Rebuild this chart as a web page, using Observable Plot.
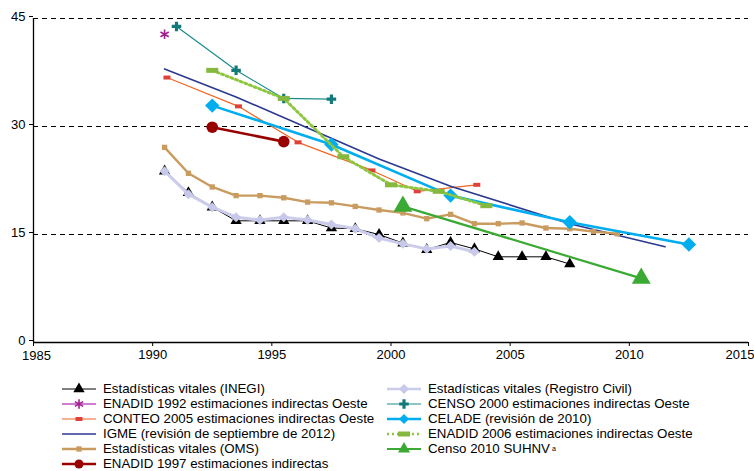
<!DOCTYPE html>
<html><head><meta charset="utf-8">
<script src="https://cdn.jsdelivr.net/npm/d3@7"></script>
<script src="https://cdn.jsdelivr.net/npm/@observablehq/plot@0.6"></script>
<style>
body{margin:0;background:#fff;font-family:"Liberation Sans",Arial,sans-serif;}
#chart{width:754px;height:471px;overflow:hidden;}
#legend{position:relative;width:754px;height:105px;font-size:13.3px;line-height:14px;color:#000;}
.item{position:absolute;display:flex;align-items:center;height:14px;white-space:nowrap;}
.item svg{display:block;margin-right:6px;}
sup{font-size:7px;vertical-align:5px;margin-left:2px;}
</style></head><body><div id="chart"></div>
<script>
// ---- data ----
const xTicks = [1985, 1990, 1995, 2000, 2005, 2010, 2015];
const yTicks = [0, 15, 30, 45];
const gridValues = [15, 30, 45];

const inegiYears = [1990.5,1991.5,1992.5,1993.5,1994.5,1995.5,1996.5,1997.5,1998.5,1999.5,2000.5,2001.5,2002.5,2003.5,2004.5,2005.5,2006.5,2007.5];
const inegiValues = [23.8,20.8,18.8,16.9,16.9,16.9,16.9,15.9,15.8,15.0,13.8,12.9,13.9,13.0,11.9,11.9,11.9,10.9];

const enadid92Years = [1990.5];
const enadid92Values = [42.8];

const conteoYears = [1990.6,1993.6,1996.1,1999.2,2001.1,2003.6];
const conteoValues = [36.8,32.8,27.8,23.9,21.0,21.9];

const igmeYears = [1990.5,1993.5,1999.5,2002.5,2007.5,2011.5];
const igmeValues = [38.0,34.1,25.5,21.7,16.5,13.3];

const omsYears = [1990.5,1991.5,1992.5,1993.5,1994.5,1995.5,1996.5,1997.5,1998.5,1999.5,2000.5,2001.5,2002.5,2003.5,2004.5,2005.5,2006.5,2007.5,2008.5,2009.5];
const omsValues = [27.1,23.5,21.6,20.4,20.4,20.1,19.5,19.4,18.9,18.4,18.0,17.2,17.8,16.5,16.5,16.6,15.9,15.8,15.4,15.1];

const enadid97Years = [1992.5,1995.5];
const enadid97Values = [29.9,27.9];

const registroYears = [1990.5,1991.5,1992.5,1993.5,1994.5,1995.5,1996.5,1997.5,1998.5,1999.5,2000.5,2001.5,2002.5,2003.5];
const registroValues = [23.8,20.6,18.8,17.4,17.0,17.4,17.0,16.4,15.8,14.5,13.7,13.0,13.4,12.6];

const censo2000Years = [1991.0,1993.5,1995.5,1997.5];
const censo2000Values = [43.9,37.8,33.9,33.8];

const celadeYears = [1992.5,1997.5,2002.5,2007.5,2012.5];
const celadeValues = [32.9,27.5,20.4,16.7,13.6];

const enadid06Years = [1992.5,1995.5,1998.0,2000.0,2002.0,2004.0];
const enadid06Values = [37.8,33.9,25.8,21.9,21.0,19.0];

const censo2010Years = [2000.5,2010.5];
const censo2010Values = [18.9,8.9];

const seriesLabels = [
  "Estadísticas vitales (INEGI)",
  "ENADID 1992 estimaciones indirectas Oeste",
  "CONTEO 2005 estimaciones indirectas Oeste",
  "IGME (revisión de septiembre de 2012)",
  "Estadísticas vitales (OMS)",
  "ENADID 1997 estimaciones indirectas",
  "Estadísticas vitales (Registro Civil)",
  "CENSO 2000 estimaciones indirectas Oeste",
  "CELADE (revisión de 2010)",
  "ENADID 2006 estimaciones indirectas Oeste",
  "Censo 2010 SUHNV"
];

// ---- styles ----
const rectSym = (w, h) => ({w, h, draw(ctx) { ctx.rect(-w / 2, -h / 2, w, h); }});
const styles = [
  {years: inegiYears, values: inegiValues, line: "#000", lw: 1, sym: "triangle", r: 4.2, fill: "#000"},
  {years: enadid92Years, values: enadid92Values, line: "#c050c0", lw: 1.5, sym: "asterisk", r: 4.5, stroke: "#a0208c", sw: 1.6},
  {years: conteoYears, values: conteoValues, line: "#f26522", lw: 1.2, sym: rectSym(7, 4), r: 3, fill: "#e0403a"},
  {years: igmeYears, values: igmeValues, line: "#2b3990", lw: 1.6, sym: null},
  {years: omsYears, values: omsValues, line: "#c99b5e", lw: 2.4, sym: "square", r: 3, fill: "#c99b5e"},
  {years: enadid97Years, values: enadid97Values, line: "#990000", lw: 2.6, sym: "circle", r: 5.8, fill: "#990000"},
  {years: registroYears, values: registroValues, line: "#cbcbec", lw: 3, sym: "diamond2", r: 4.5, fill: "#c8c8ea"},
  {years: censo2000Years, values: censo2000Values, line: "#1a8c8c", lw: 1.2, sym: "cross", r: 4, fill: "#127a7a"},
  {years: celadeYears, values: celadeValues, line: "#00aeef", lw: 2.6, sym: "diamond2", r: 6.5, fill: "#00aeef"},
  {years: enadid06Years, values: enadid06Values, line: "#8dc63f", lw: 3, dash: "2,3", sym: rectSym(12, 5), r: 4, fill: "#86b73e"},
  {years: censo2010Years, values: censo2010Values, line: "#3aaa35", lw: 2.2, sym: "triangle", r: 7, fill: "#3aaa35"}
];

const firstTick = xTicks[0];
const lastTick = xTicks[xTicks.length - 1];
const marks = [
  Plot.ruleY(gridValues, {stroke: "#000", strokeWidth: 1, strokeDasharray: "5,4"}),
  Plot.ruleX([firstTick], {stroke: "#000", strokeWidth: 1.3}),
  Plot.ruleY([0], {stroke: "#000", strokeWidth: 1.3}),
  Plot.axisX({ticks: xTicks, tickFormat: d => (d === lastTick || d === firstTick) ? "" : String(d), tickSize: 4, tickPadding: 3, label: null}),
  Plot.text([firstTick], {x: d => d, y: () => 0, text: d => String(d), textAnchor: "middle", lineAnchor: "top", dy: 8, dx: 3}),
  Plot.text([lastTick], {x: d => d, y: () => 0, text: d => String(d), textAnchor: "end", lineAnchor: "top", dy: 7, dx: 6}),
  Plot.axisY({ticks: yTicks, tickSize: 4, tickPadding: 4, label: null, dy: -2})
];
styles.forEach(s => {
  const data = s.years.map((y, i) => ({x: y, y: s.values[i]}));
  if (data.length > 1) marks.push(Plot.line(data, {x: "x", y: "y", stroke: s.line, strokeWidth: s.lw, strokeDasharray: s.dash}));
  if (s.sym) {
    if (s.stroke) marks.push(Plot.dot(data, {x: "x", y: "y", symbol: s.sym, r: s.r, stroke: s.stroke, strokeWidth: s.sw, fill: "none"}));
    else marks.push(Plot.dot(data, {x: "x", y: "y", symbol: s.sym, r: s.r, fill: s.fill, stroke: "none"}));
  }
});

const chart = Plot.plot({
  width: 754, height: 366,
  marginLeft: 33, marginRight: 6, marginTop: 18, marginBottom: 24,
  x: {domain: [1985, 2015]},
  y: {domain: [0, 45]},
  style: {fontFamily: "'Liberation Sans', Arial, sans-serif", fontSize: "13px", color: "#000", background: "#fff"},
  marks
});
const root = document.getElementById("chart");
root.appendChild(chart);

// ---- legend ----
const legend = document.createElement("div");
legend.id = "legend";
root.appendChild(legend);
const rowTops = [22.5, 37.5, 52.5, 67.5, 82.5, 97.5];
const symMap = {triangle: d3.symbolTriangle, asterisk: d3.symbolAsterisk, square: d3.symbolSquare, circle: d3.symbolCircle, diamond2: d3.symbolDiamond2, cross: d3.symbolCross};
seriesLabels.forEach((label, i) => {
  const s = styles[i];
  const col = i < 6 ? 0 : 1;
  const row = i < 6 ? i : i - 6;
  const item = document.createElement("div");
  item.className = "item";
  item.style.left = (col === 0 ? 61 : 386) + "px";
  item.style.top = (rowTops[row] - 7) + "px";
  const sw = d3.create("svg").attr("width", 36).attr("height", 14);
  sw.append("line").attr("x1", 1).attr("x2", 35).attr("y1", 7).attr("y2", 7)
    .attr("stroke", s.line).attr("stroke-width", Math.min(s.lw, 2.6)).attr("stroke-dasharray", s.dash || null);
  if (s.sym) {
    const lsize = Math.PI * Math.pow(Math.min(s.r, 4.5), 2);
    const path = typeof s.sym === "string" ? d3.symbol(symMap[s.sym], lsize)() : d3.symbol(s.sym)();
    sw.append("path").attr("d", path).attr("transform", "translate(18,7)")
      .attr("fill", s.stroke ? "none" : s.fill).attr("stroke", s.stroke || "none").attr("stroke-width", s.sw || null);
  }
  item.appendChild(sw.node());
  const span = document.createElement("span");
  span.textContent = label;
  item.appendChild(span);
  if (i === 10) {
    const sup = document.createElement("sup");
    sup.textContent = "a";
    item.appendChild(sup);
  }
  legend.appendChild(item);
});
</script>
</body></html>
